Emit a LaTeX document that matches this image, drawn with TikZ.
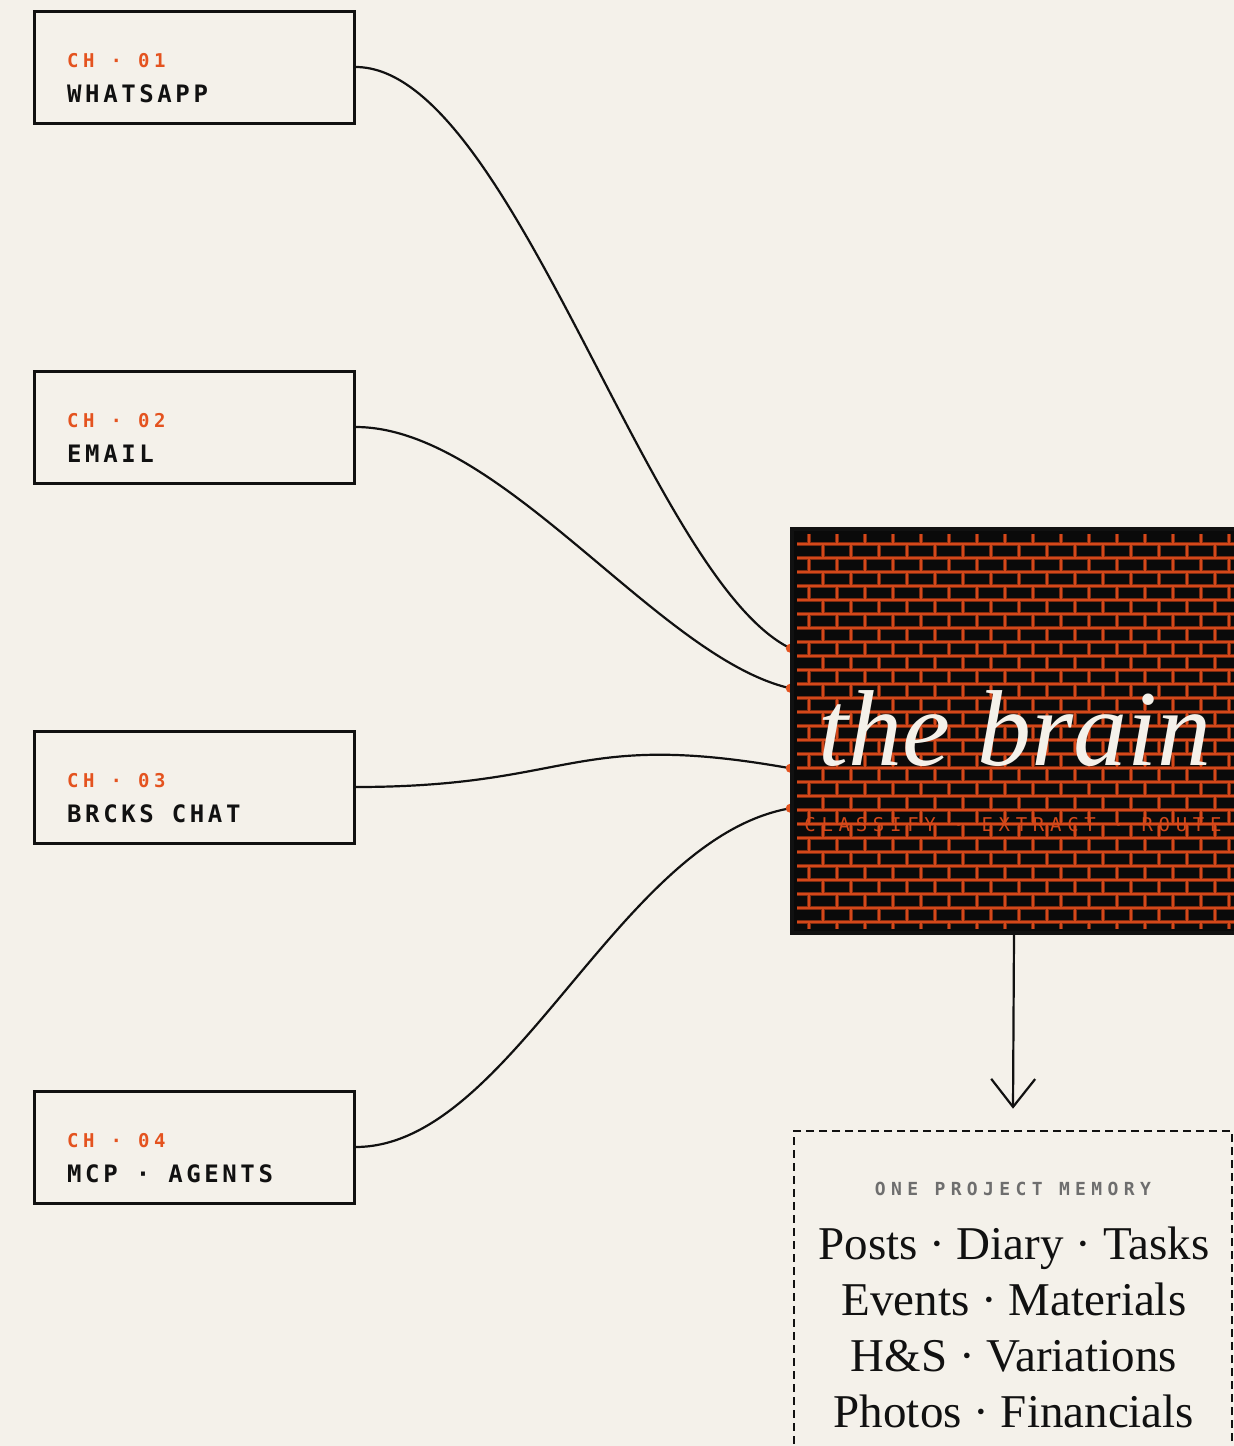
\documentclass[tikz,border=0pt]{standalone}
\usepackage{fontspec}
\setmainfont{Liberation Serif}
\newfontfamily\monotag[LetterSpace=24]{DejaVu Sans Mono}
\newfontfamily\mononame[LetterSpace=15]{DejaVu Sans Mono}
\newfontfamily\monowide[LetterSpace=30]{DejaVu Sans Mono}
\usepackage{tikz}
\usetikzlibrary{arrows.meta, positioning, calc, backgrounds}

\definecolor{paper}{HTML}{F4F1EA}
\definecolor{ink}{HTML}{111111}
\definecolor{accent}{HTML}{E4531F}
\definecolor{brick}{HTML}{D4481A}
\definecolor{mute}{HTML}{6E6E6E}

\tikzset{
  chbox/.style    = {draw=ink, line width=3pt, fill=paper,
                     minimum width=320pt, minimum height=112pt, inner sep=0pt},
  chtag/.style    = {text=accent, inner sep=0pt,
                     font=\monotag\bfseries\fontsize{19}{22}\selectfont},
  chname/.style   = {text=ink, inner sep=0pt,
                     font=\mononame\bfseries\fontsize{24}{28}\selectfont},
  brainbox/.style = {draw=ink, line width=3.5pt, fill=black!96,
                     minimum width=444pt, minimum height=404pt, inner sep=0pt},
  brainword/.style= {text=paper, inner sep=0pt,
                     font=\itshape\fontsize{108}{118}\selectfont},
  steps/.style    = {text=brick, inner sep=0pt,
                     font=\monowide\fontsize{19}{22}\selectfont},
  membox/.style   = {draw=ink, line width=2.6pt, dash pattern=on 8pt off 5pt,
                     minimum width=438pt, minimum height=340pt, inner sep=0pt},
  memhead/.style  = {text=mute, inner sep=0pt,
                     font=\monowide\bfseries\fontsize{18}{22}\selectfont},
  memitem/.style  = {text=ink, inner sep=0pt,
                     font=\fontsize{47}{56}\selectfont},
  wire/.style     = {draw=ink, line width=2.2pt},
  mortar/.style   = {draw=brick, line width=1.8pt},
  glow/.style     = {draw=brick!60!black, line width=4.2pt},
  flow/.style     = {draw=ink, line width=2.2pt,
                     -{Straight Barb[length=28pt, width=44pt, line width=2.2pt]}},
}

\begin{document}
\begin{tikzpicture}[x=1pt, y=-1pt]
  \useasboundingbox (0,0) rectangle (1234,1446);

  % the four input channels
  \foreach \n/\y/\name in {1/67/WHATSAPP, 2/427/EMAIL, 3/787/BRCKS CHAT, 4/1147/MCP · AGENTS}{
    \node[chbox] (ch\n) at (194,\y) {};
    \node[chtag, anchor=base west] (tag\n) at (67,\y) {CH · 0\n};
    \node[chname, anchor=base west] (name\n) at (67,{\y+35}) {\name};
  }

  % central block
  \node[brainbox] (brain) at (1014,731) {};
  \begin{scope}
    \clip (797,534) rectangle (1234,928);
    \foreach \pass in {glow, mortar}{
      \foreach \r in {0,...,29}{
        \pgfmathsetmacro{\yy}{530+14*\r}
        \pgfmathsetmacro{\off}{mod(\r,2)==0 ? 809 : 795}
        \draw[\pass] (790,\yy) -- (1240,\yy);
        \foreach \k in {0,...,16}
          \draw[\pass] ({\off+28*\k},\yy) -- ({\off+28*\k},{\yy+14});
      }
    }
  \end{scope}
  \node[brainword, anchor=base] (word) at (1015,765) {the brain};
  \node[steps, anchor=base] (tasks) at (1013,831) {CLASSIFY · EXTRACT · ROUTE};

  % connectors run behind the block
  \begin{pgfonlayer}{background}
    \fill[paper] (0,0) rectangle (1234,1446);
    \coordinate (in1) at ($(brain.north west)+(0,121)$);
    \coordinate (in2) at ($(brain.north west)+(0,161)$);
    \coordinate (in3) at ($(brain.north west)+(0,241)$);
    \coordinate (in4) at ($(brain.north west)+(0,281)$);
    \draw[wire] (ch1.east) .. controls +(156,0) and +(-142,-70) .. (in1);
    \draw[wire] (ch2.east) .. controls +(146,0) and +(-132,-30) .. (in2);
    \draw[wire] (ch3.east) .. controls +(219,0) and +(-219,-39) .. (in3);
    \draw[wire] (ch4.east) .. controls +(156,0) and +(-172,30) .. (in4);
    \foreach \i in {1,...,4}
      \fill[accent] (in\i) circle (4.5);
  \end{pgfonlayer}

  % shared memory
  \node[membox] (mem) at (1013,1301) {};
  \node[memhead, anchor=base] (memtitle) at (1013,1195) {ONE PROJECT MEMORY};
  \foreach \i/\line in {1/{Posts · Diary · Tasks}, 2/{Events · Materials},
                        3/{H\&S · Variations}, 4/{Photos · Financials}}
    \node[memitem, anchor=base] (item\i) at (1014,{1203+56*\i}) {\line};

  \draw[flow] (brain.south) -- ($(mem.north)+(0,-21)$);
\end{tikzpicture}
\end{document}
